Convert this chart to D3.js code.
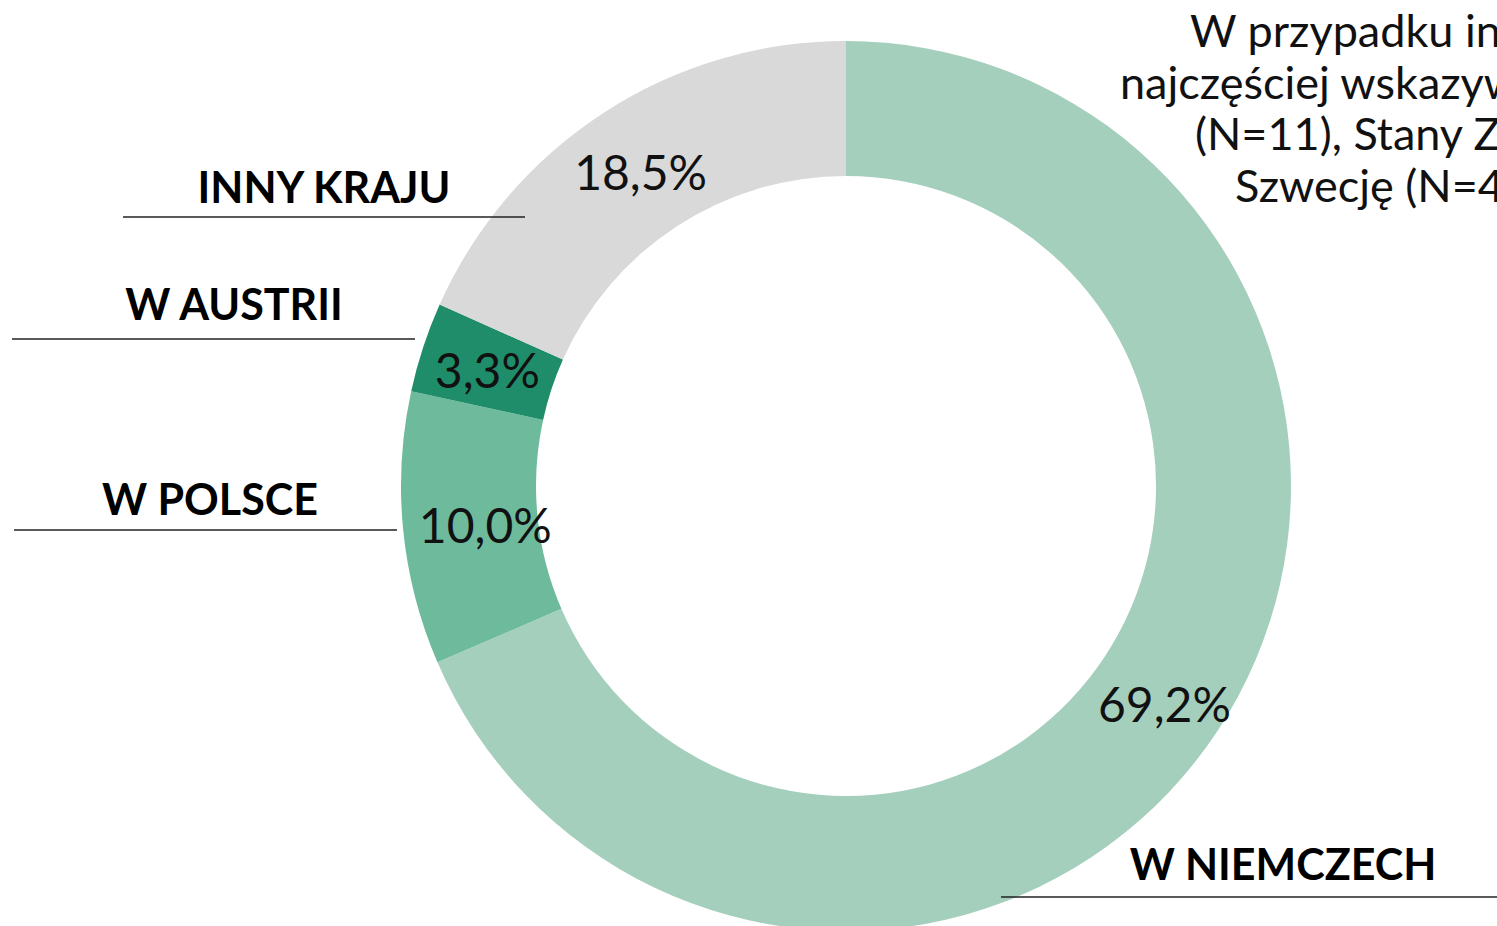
<!DOCTYPE html>
<html>
<head>
<meta charset="utf-8">
<script src="https://cdn.jsdelivr.net/npm/d3@7"></script>
<style>
	html, body { margin: 0; padding: 0; background: #fff; overflow: hidden; }
	svg { display: block; }
	.pct { font-family: Lato, "Noto Sans", sans-serif; font-size: 48px; fill: #111; }
	.cat { font-family: Lato, "Noto Sans", sans-serif; font-size: 43px; font-weight: 700; fill: #000; }
	.note { font-family: Lato, "Noto Sans", sans-serif; font-size: 45px; fill: #111; }
	.rule { stroke: #222; stroke-width: 1.3; }
</style>
</head>
<body>
<svg id="chart" width="1497" height="926"></svg>
<script>
'use strict';

var WIDTH = 1497, HEIGHT = 926;

// data, clockwise from 12 o'clock
var categories = ['W NIEMCZECH', 'W POLSCE', 'W AUSTRII', 'INNY KRAJU'];
var shares = [69.2, 10.0, 3.3, 18.5];
var shareLabels = ['69,2%', '10,0%', '3,3%', '18,5%'];
var colors = ['#a5cfbd', '#6dbb9c', '#1f8d6a', '#d9d9d9'];

var noteLines = ['W przypadku in', 'najczęściej wskazyw', '(N=11), Stany Zj', 'Szwecję (N=4'];

// category label layout: text centre / baseline, rule from x1 to x2 at y
var labelLayout = [
	{ tx: 1283, ty: 880, x1: 1001, x2: 1497, y: 897 },
	{ tx: 210, ty: 515, x1: 14, x2: 397, y: 530 },
	{ tx: 234, ty: 320, x1: 12, x2: 415, y: 339 },
	{ tx: 324, ty: 203, x1: 123, x2: 525, y: 217 }
];
// small hand nudges of the percent labels off the arc centroid
var pctNudge = [[3, 11], [15, 3], [0, 2], [0, 3]];
var noteLayout = [1190, 1120, 1195, 1235];

var cx = 846, cy = 486,
	outerR = 445, innerR = 310;

var svg = d3.select('#chart');

var d3Data = categories.map(function (c, i) {
	return { cat: c, value: shares[i], label: shareLabels[i], color: colors[i], idx: i };
});

var pie = d3.pie()
	.sort(null)
	.value(function (d) { return d.value; });

var arc = d3.arc()
	.outerRadius(outerR)
	.innerRadius(innerR);

var g = svg.append('g')
	.attr('transform', 'translate(' + cx + ',' + cy + ')');

var slices = g.selectAll('.arc')
	.data(pie(d3Data))
	.enter().append('g')
		.attr('class', 'arc');

slices.append('path')
	.attr('d', arc)
	.style('fill', function (d) { return d.data.color; });

slices.append('text')
	.attr('class', 'pct')
	.attr('transform', function (d) {
		var c = arc.centroid(d), n = pctNudge[d.data.idx];
		return 'translate(' + (c[0] + n[0]) + ',' + (c[1] + n[1]) + ')';
	})
	.attr('dy', '.36em')
	.style('text-anchor', 'middle')
	.text(function (d) { return d.data.label; });

// category names with rules underneath
var cats = svg.append('g')
	.selectAll('g')
	.data(d3Data)
	.enter().append('g');

cats.append('line')
	.attr('class', 'rule')
	.attr('x1', function (d) { return labelLayout[d.idx].x1; })
	.attr('x2', function (d) { return labelLayout[d.idx].x2; })
	.attr('y1', function (d) { return labelLayout[d.idx].y; })
	.attr('y2', function (d) { return labelLayout[d.idx].y; });

cats.append('text')
	.attr('class', 'cat')
	.attr('x', function (d) { return labelLayout[d.idx].tx; })
	.attr('y', function (d) { return labelLayout[d.idx].ty; })
	.style('text-anchor', 'middle')
	.text(function (d) { return d.cat; });

// note in the top right corner (runs off the edge, as in the source)
svg.append('g')
	.selectAll('text')
	.data(noteLines)
	.enter().append('text')
		.attr('class', 'note')
		.attr('x', function (d, i) { return noteLayout[i]; })
		.attr('y', function (d, i) { return 47 + i * 51.5; })
		.text(function (d) { return d; });
</script>
</body>
</html>
